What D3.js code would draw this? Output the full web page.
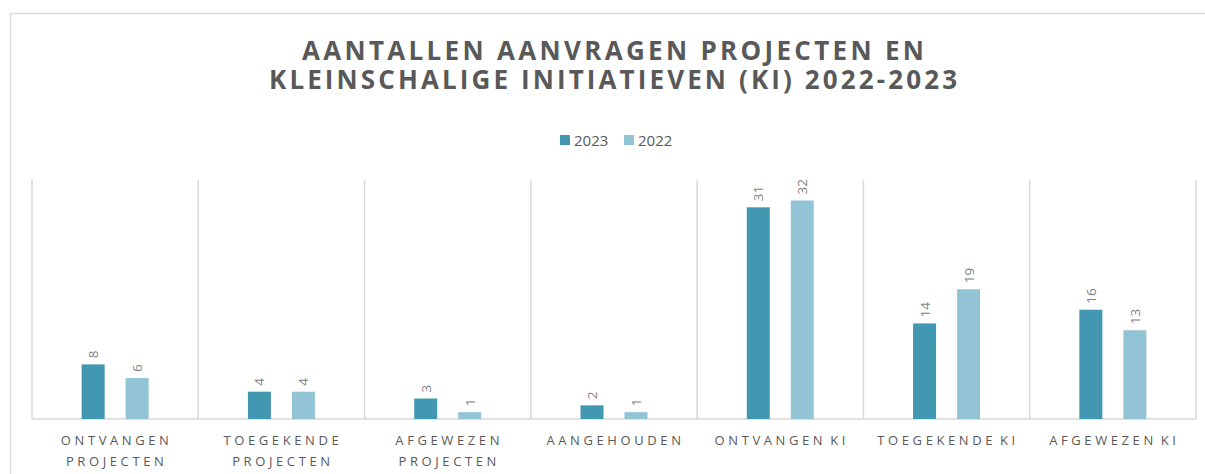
<!DOCTYPE html>
<html><head><meta charset="utf-8">
<script src="https://cdn.jsdelivr.net/npm/d3@7"></script>
<style>html,body{margin:0;padding:0;background:#fff;}svg{display:block;}</style>
</head><body>
<svg id="c" width="1205" height="474"></svg>
<script>
const categories = ["ONTVANGEN PROJECTEN","TOEGEKENDE PROJECTEN","AFGEWEZEN PROJECTEN","AANGEHOUDEN","ONTVANGEN KI","TOEGEKENDE KI","AFGEWEZEN KI"];
const seriesNames = ["2023","2022"];
const values2023 = [8,4,3,2,31,14,16];
const values2022 = [6,4,1,1,32,19,13];
const titleLines = ["AANTALLEN AANVRAGEN PROJECTEN EN","KLEINSCHALIGE INITIATIEVEN (KI) 2022-2023"];
const colors = ["#4298b0","#93c4d5"];

const svg = d3.select("#c");
const font = "'Open Sans', sans-serif";
const m = {left:32, right:1196, top:180, bottom:419};

// outer frame
svg.append("rect").attr("x",10.5).attr("y",13.5).attr("width",1400).attr("height",600)
  .attr("fill","none").attr("stroke","#d9d9d9").attr("stroke-width",1.5);

const x = d3.scaleBand().domain(categories).range([m.left,m.right]).padding(0);
const y = d3.scaleLinear().domain([0,35]).range([m.bottom,m.top]);
const barW = 23, gap = 21;

// vertical separators
const seps = categories.map(c=>x(c)).concat([x.range()[1]]);
svg.append("g").selectAll("line").data(seps).join("line")
  .attr("x1",d=>d).attr("x2",d=>d).attr("y1",m.top).attr("y2",m.bottom)
  .attr("stroke","#d9d9d9").attr("stroke-width",1.5);

// baseline
svg.append("line").attr("x1",m.left).attr("x2",m.right).attr("y1",m.bottom).attr("y2",m.bottom)
  .attr("stroke","#d9d9d9").attr("stroke-width",1.5);

const series = [values2023, values2022];
series.forEach((vals,si)=>{
  const g = svg.append("g");
  const off = si===0 ? -(barW+gap)/2 - barW/2 : (barW+gap)/2 - barW/2;
  g.selectAll("rect").data(categories).join("rect")
    .attr("x",(c)=>x(c)+x.bandwidth()/2+off)
    .attr("width",barW)
    .attr("y",(c,i)=>y(vals[i]))
    .attr("height",(c,i)=>y(0)-y(vals[i]))
    .attr("fill",colors[si]);
  g.selectAll("text").data(categories).join("text")
    .attr("transform",(c,i)=>`translate(${x(c)+x.bandwidth()/2+off+barW/2+5},${y(vals[i])-6}) rotate(-90)`)
    .attr("font-family",font).attr("font-size",13.5).attr("fill","#7f7f7f")
    .text((c,i)=>vals[i]);
});

// x labels with wrapping
const xl = svg.append("g");
categories.forEach(c=>{
  const words = c.split(" ");
  const t = xl.append("text").attr("font-family",font).attr("font-size",13)
    .attr("fill","#595959").attr("letter-spacing","3.6px").attr("word-spacing","-3px").attr("text-anchor","middle");
  t.text(c);
  let lines = [c];
  if (t.node().getComputedTextLength() > x.bandwidth()-20 && words.length>1) {
    lines = [words.slice(0,-1).join(" "), words[words.length-1]];
  }
  t.text(null);
  lines.forEach((ln,i)=>{
    t.append("tspan").attr("x",x(c)+x.bandwidth()/2+1.5).attr("y",445+i*21).text(ln);
  });
});

// title (one text element, two lines)
const titleWidths = [622, 688];
const tt = svg.append("text").attr("text-anchor","middle").attr("font-family",font)
  .attr("font-weight","bold").attr("font-size",26).attr("fill","#595959");
titleLines.forEach((ln,i)=>{
  const sp = tt.append("tspan").attr("x",613).attr("y",59.5+i*29.5).text(ln);
  const w = sp.node().getComputedTextLength();
  const ls = (titleWidths[i]-w)/(ln.length-1);
  sp.attr("letter-spacing",ls+"px").attr("x",613+ls/2);
});

// legend
const lg = svg.append("g");
const legX = [560, 624];
seriesNames.forEach((s,i)=>{
  lg.append("rect").attr("x",legX[i]).attr("y",135).attr("width",10).attr("height",10).attr("fill",colors[i]);
  lg.append("text").attr("x",legX[i]+14).attr("y",145.5).attr("font-family",font).attr("font-size",15)
    .attr("fill","#595959").text(s);
});
</script>
</body></html>
